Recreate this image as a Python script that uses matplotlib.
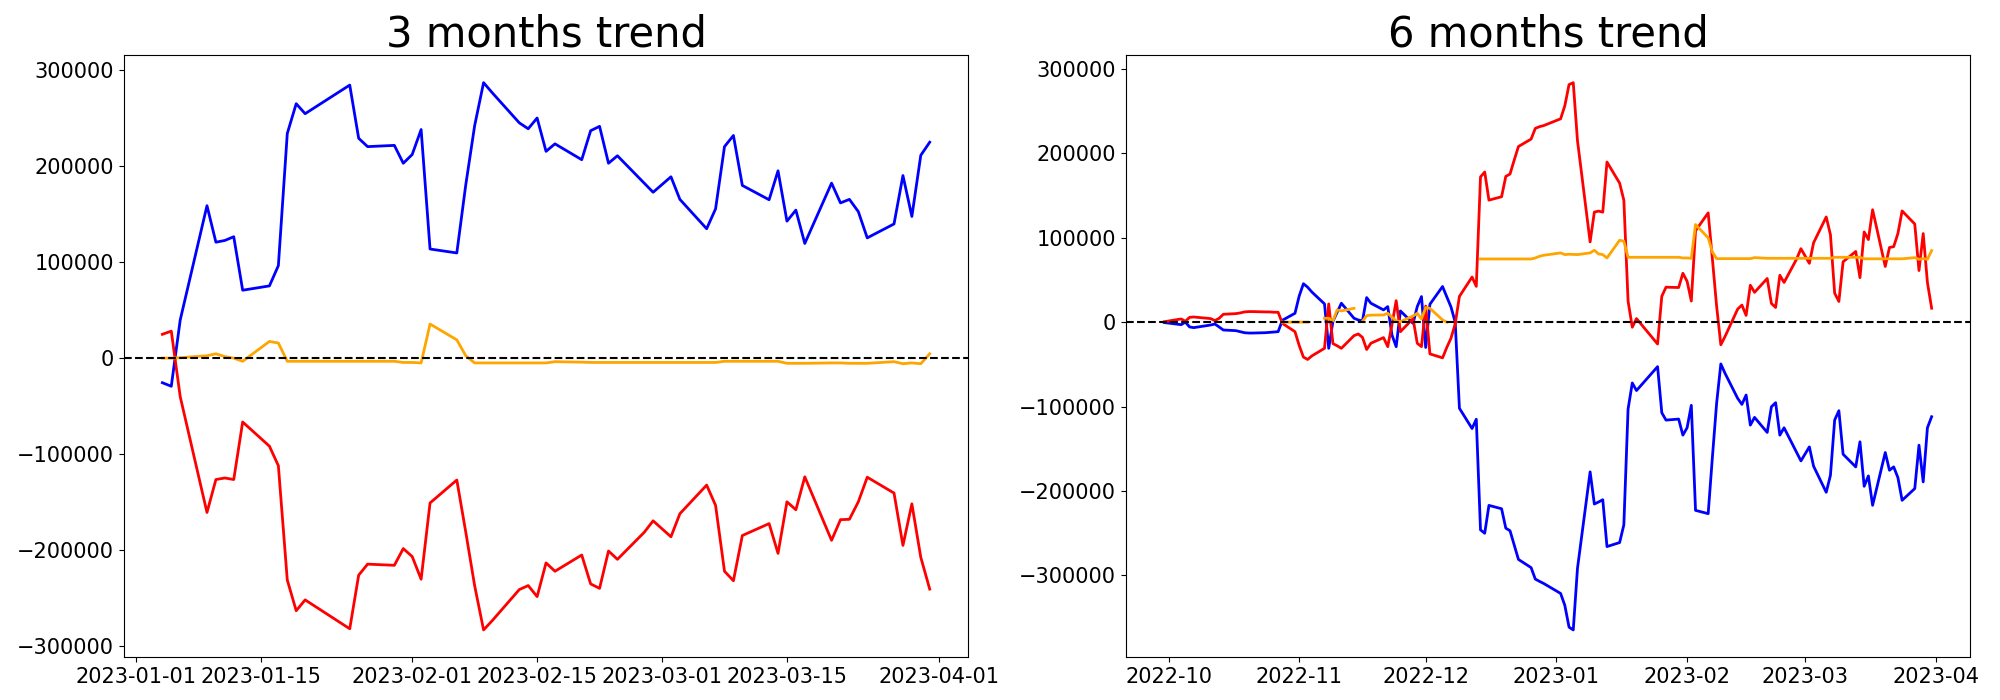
import numpy as np
import pandas as pd
import matplotlib
matplotlib.use("Agg")
import matplotlib.pyplot as plt

# 거래일 (trading days) per month
sep_days = [30]
oct_days = [4, 5, 6, 7, 11, 12, 13, 14, 17, 18, 19, 20, 21, 24, 25, 26, 27, 28, 31]
nov_days = [1, 2, 3, 4, 7, 8, 9, 10, 11, 14, 15, 16, 17, 18, 21, 22, 23, 24, 25, 28, 29, 30]
dec_days = [1, 2, 5, 6, 7, 8, 9, 12, 13, 14, 15, 16, 19, 20, 21, 22, 23, 26, 27, 28, 29]
jan_days = [4, 5, 6, 9, 10, 11, 12, 13, 16, 17, 18, 19, 20, 25, 26, 27, 30, 31]
feb_days = [1, 2, 3, 6, 7, 8, 9, 10, 13, 14, 15, 16, 17, 20, 21, 22, 23, 24, 27, 28]
mar_days = [2, 3, 6, 7, 8, 9, 10, 13, 14, 15, 16, 17, 20, 21, 22, 23, 24, 27, 28, 29, 30, 31]


def to_dates(month, days):
    return [pd.Timestamp(f"{month}-{d:02d}") for d in days]


dates_3m = to_dates("2023-01", jan_days) + to_dates("2023-02", feb_days) + to_dates("2023-03", mar_days)
dates_6m = (to_dates("2022-09", sep_days) + to_dates("2022-10", oct_days) + to_dates("2022-11", nov_days)
            + to_dates("2022-12", dec_days) + to_dates("2023-01", [2, 3] + jan_days)
            + to_dates("2023-02", feb_days) + to_dates("2023-03", mar_days))

# values in thousands
blue_3m = [-25.6, -29.3, 39.7, 158.7, 120.7, 122.5, 126.4, 70.7, 75.2, 96.3, 233.9, 264.9, 254.5, 284.3, 228.9, 220.2, 221.5, 202.9,
           212.0, 238.0, 113.6, 109.5, 180.2, 242.1, 286.8, 276.0, 245.0, 238.8, 250.0, 215.3, 223.1, 206.6, 236.8, 241.3, 202.9, 210.7, 182.2, 172.7,
           188.8, 165.3, 134.7, 155.4, 220.2, 231.8, 179.8, 164.9, 195.0, 142.6, 154.1, 119.4, 182.2, 161.6, 165.3, 152.5, 125.2, 139.7, 190.1, 147.5, 211.2, 224.8]
red_3m = [24.8, 28.1, -40.1, -160.7, -126.4, -124.8, -126.4, -66.5, -91.7, -112.0, -231.0, -263.0, -251.7, -281.8, -226.0, -214.5, -215.7, -198.3,
          -206.6, -230.2, -150.8, -126.9, -181.0, -237.0, -283.0, -273.0, -241.0, -236.8, -248.3, -213.2, -221.9, -205.0, -235.1, -239.7, -200.8, -209.5, -181.4, -169.4,
          -186.0, -162.0, -132.2, -153.3, -221.9, -231.8, -184.7, -172.3, -203.3, -149.6, -157.9, -123.6, -189.7, -168.2, -167.8, -149.6, -124.0, -140.5, -195.0, -151.7, -207.4, -240.5]
orange_3m = [0.0, 0.0, 0.4, 2.5, 4.5, 1.6, 0.0, -3.3, 17.4, 15.7, -3.3, -3.3, -3.3, -3.3, -3.3, -3.3, -3.3, -4.5,
             -4.5, -5.0, 35.5, 19.0, 2.5, -5.0, -5.0, -5.0, -5.0, -5.0, -5.0, -5.0, -3.7, -4.2, -4.5, -4.5, -4.5, -4.5, -4.5, -4.5,
             -4.5, -4.5, -4.5, -4.5, -3.3, -3.3, -3.3, -3.3, -3.3, -5.4, -5.4, -5.4, -5.0, -5.0, -5.4, -5.4, -5.4, -3.7, -5.8, -5.0, -5.8, 4.5]

nan = np.nan
blue_6m = [-0.5,
           -3.0, 0.0, -5.7, -6.5, -3.4, -2.2, -5.7, -9.3, -10.1, -11.3, -12.5, -12.9, -12.9, -12.5, -12.1, -11.7, -11.3, 2.2, 10.5,
           31.0, 45.5, 41.4, 35.7, 21.6, -31.0, 1.0, 11.7, 22.4, 4.6, 2.6, 1.4, 29.1, 22.4, 14.5, 18.4, -15.2, -29.1, 13.3, -1.4, 18.4, 30.3,
           -30.0, 21.2, 42.2, 30.0, 18.0, 0.0, -102.0, -126.0, -115.0, -246.0, -250.0, -217.0, -221.0, -244.0, -247.0, -264.0, -281.0, -290.7, -304.3, -307.0, -309.5,
           -321.3, -335.4, -361.2, -364.5, -291.6, -177.3, -215.4, -213.0, -210.3, -265.8, -261.0, -240.0, -103.0, -72.0, -81.0, -52.7, -107.3, -116.0, -114.8, -133.8,
           -125.1, -98.5, -222.9, -226.8, -160.0, -96.2, -49.5, -60.6, -90.3, -97.4, -86.3, -121.9, -112.8, -130.6, -100.2, -95.4, -133.8, -125.1, -154.5, -164.3,
           -147.7, -170.6, -201.5, -181.3, -116.0, -104.9, -156.4, -171.4, -141.7, -194.4, -182.1, -216.9, -154.4, -175.4, -171.4, -184.1, -211.0, -197.1, -145.7, -189.2, -125.1, -112.0]
red_6m = [0.5,
          3.8, 1.0, 5.7, 6.1, 4.2, 1.8, 4.5, 9.3, 10.1, 10.9, 12.1, 12.5, 12.5, 12.1, 12.1, 11.7, 11.7, -1.4, -11.3,
          -27.7, -41.4, -44.2, -40.0, -31.0, 21.6, -25.4, -28.0, -31.0, -16.0, -14.0, -18.0, -32.4, -25.0, -18.3, -29.0, -3.0, 25.4, -11.3, 4.2, -25.0, -29.0,
          19.0, -37.6, -42.3, -30.0, -19.0, -2.0, 30.5, 53.4, 42.4, 172.0, 177.8, 144.5, 148.5, 172.6, 175.4, 192.0, 208.0, 216.8, 229.5, 231.5, 232.8,
          240.8, 256.3, 281.3, 283.6, 215.0, 95.0, 130.3, 131.5, 130.3, 189.6, 164.6, 144.4, 25.0, -6.0, 4.2, -25.9, 30.6, 41.4, 41.0, 57.9,
          48.4, 25.0, 108.2, 129.4, 75.0, 19.0, -26.8, -17.0, 15.5, 20.2, 8.0, 43.7, 35.3, 51.7, 22.1, 17.4, 55.5, 47.0, 75.0, 87.0,
          69.6, 94.0, 124.6, 103.5, 34.3, 24.5, 71.5, 83.7, 52.7, 106.8, 97.8, 133.1, 65.9, 88.4, 89.4, 104.9, 131.7, 116.2, 61.1, 104.9, 47.0, 16.5]
orange_6m = [nan,
             nan, nan, nan, nan, nan, nan, nan, nan, nan, nan, nan, nan, nan, nan, nan, nan, nan, 0.0, 0.0,
             0.0, 0.0, 0.0, nan, 4.6, 4.6, 1.4, 14.5, 13.3, 16.4, nan, 1.0, 7.7, 8.3, 8.5, 10.5, 6.0, 1.4, 0.6, 7.3, 10.5, 3.8,
             17.2, 16.4, 2.6, 0.0, nan, nan, nan, nan, nan, 74.8, 74.8, 74.8, 74.8, 74.8, 74.8, 74.8, 74.8, 74.8, 76.0, 78.0, 79.2,
             82.0, 80.0, 80.4, 80.2, 80.0, 82.0, 85.1, 80.8, 80.0, 76.0, 97.0, 95.8, 76.8, 76.8, 76.8, 76.8, 76.8, 76.8, 76.8, 76.0,
             76.0, 75.6, 115.6, 99.8, 83.0, 75.2, 75.2, 75.2, 75.2, 75.2, 75.2, 75.2, 76.4, 75.6, 75.6, 75.6, 75.6, 75.6, 75.6, 75.6,
             75.6, 75.6, 75.6, 75.6, 76.8, 76.8, 76.8, 76.8, 76.8, 75.0, 75.0, 75.0, 75.0, 75.0, 75.0, 75.0, 75.0, 76.4, 74.4, 75.2, 74.4, 84.7]

unit = 1000

fig, (ax1, ax2) = plt.subplots(1, 2, figsize=(20, 7))
fig.subplots_adjust(left=0.062, right=0.985, bottom=0.061, top=0.921, wspace=0.187)

for ax, dates, b, r, o, title in [
    (ax1, dates_3m, blue_3m, red_3m, orange_3m, "3 months trend"),
    (ax2, dates_6m, blue_6m, red_6m, orange_6m, "6 months trend"),
]:
    ax.plot(dates, np.array(b) * unit, color="blue", linewidth=2)
    ax.plot(dates, np.array(r) * unit, color="red", linewidth=2)
    ax.plot(dates, np.array(o) * unit, color="orange", linewidth=2)
    ax.axhline(0, color="black", linestyle="--", linewidth=1.5)
    ax.set_title(title, fontsize=30)
    ax.tick_params(labelsize=15)

plt.savefig("out.png", dpi=100)
